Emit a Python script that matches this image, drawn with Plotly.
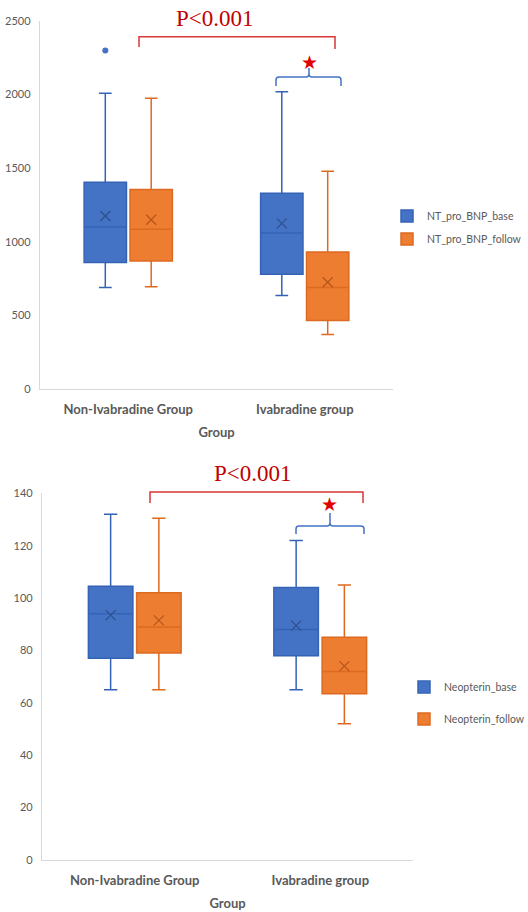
import plotly.graph_objects as go

W, H = 528, 912

groups = ["Non-Ivabradine Group", "Ivabradine group"]
group_pos = [0, 1]

# NT-proBNP box statistics per group (Non-Ivabradine, Ivabradine)
bnp_base_lower = [690, 635]
bnp_base_q1 = [860, 780]
bnp_base_median = [1100, 1060]
bnp_base_q3 = [1405, 1330]
bnp_base_upper = [2010, 2020]
bnp_base_mean = [1175, 1125]
bnp_base_outlier = [2300]

bnp_follow_lower = [695, 370]
bnp_follow_q1 = [870, 465]
bnp_follow_median = [1085, 690]
bnp_follow_q3 = [1355, 930]
bnp_follow_upper = [1975, 1480]
bnp_follow_mean = [1150, 725]

# Neopterin box statistics per group
neo_base_lower = [65, 65]
neo_base_q1 = [77, 78]
neo_base_median = [94, 88]
neo_base_q3 = [104.5, 104]
neo_base_upper = [132, 122]
neo_base_mean = [93.5, 89.5]

neo_follow_lower = [65, 52]
neo_follow_q1 = [79, 63.5]
neo_follow_median = [89, 72]
neo_follow_q3 = [102, 85]
neo_follow_upper = [130.5, 105]
neo_follow_mean = [91.5, 74]

BLUE, BLUE_LINE, BLUE_X = "#4472C4", "#3463B5", "#2F4F8F"
ORANGE, ORANGE_LINE, ORANGE_X = "#ED7D31", "#DE6A22", "#B85418"
GRAY = "#595959"
AXIS = "#D9D9D9"
FONT = "Lato"

OFFSET = 0.13
BOXW = 0.24


def px(x):
    return x / W


def py(y):
    return 1 - y / H


def path(points):
    cmds = []
    for p in points:
        vals = p[1:]
        coords = []
        for i in range(0, len(vals), 2):
            coords.append(f"{px(vals[i]):.5f},{py(vals[i + 1]):.5f}")
        cmds.append(p[0] + " " + " ".join(coords))
    return " ".join(cmds)


fig = go.Figure()


def add_boxes(name, lower, q1, med, q3, upper, mean, side, fill, line, xcol,
              xa, ya, legend):
    xs = [g + side * OFFSET for g in group_pos]
    fig.add_trace(go.Box(
        name=name, x=xs, lowerfence=lower, q1=q1, median=med, q3=q3,
        upperfence=upper, width=BOXW, whiskerwidth=0.3,
        fillcolor=fill, line=dict(color=line, width=1.5),
        boxpoints=False, xaxis=xa, yaxis=ya, legend=legend,
        legendgroup=name, hoverinfo="skip",
    ))
    fig.add_trace(go.Scatter(
        x=xs, y=mean, mode="markers", showlegend=False, legendgroup=name,
        legend=legend,
        marker=dict(symbol="x-thin-open", size=10, color=xcol,
                    line=dict(color=xcol, width=1.2)),
        xaxis=xa, yaxis=ya, hoverinfo="skip",
    ))


add_boxes("NT_pro_BNP_base", bnp_base_lower, bnp_base_q1, bnp_base_median,
          bnp_base_q3, bnp_base_upper, bnp_base_mean, -1, BLUE, BLUE_LINE,
          BLUE_X, "x", "y", "legend")
add_boxes("NT_pro_BNP_follow", bnp_follow_lower, bnp_follow_q1,
          bnp_follow_median, bnp_follow_q3, bnp_follow_upper, bnp_follow_mean,
          1, ORANGE, ORANGE_LINE, ORANGE_X, "x", "y", "legend")

# outlier of the baseline Non-Ivabradine group
fig.add_trace(go.Scatter(
    x=[group_pos[0] - OFFSET] * len(bnp_base_outlier), y=bnp_base_outlier,
    mode="markers", showlegend=False, legendgroup="NT_pro_BNP_base",
    marker=dict(symbol="circle", size=6, color=BLUE),
    xaxis="x", yaxis="y", hoverinfo="skip",
))

add_boxes("Neopterin_base", neo_base_lower, neo_base_q1, neo_base_median,
          neo_base_q3, neo_base_upper, neo_base_mean, -1, BLUE, BLUE_LINE,
          BLUE_X, "x2", "y2", "legend2")
add_boxes("Neopterin_follow", neo_follow_lower, neo_follow_q1,
          neo_follow_median, neo_follow_q3, neo_follow_upper, neo_follow_mean,
          1, ORANGE, ORANGE_LINE, ORANGE_X, "x2", "y2", "legend2")

xcommon = dict(
    range=[-0.5, 1.5], tickvals=group_pos, ticktext=groups,
    showline=True, linecolor=AXIS, linewidth=1.3, showgrid=False,
    zeroline=False, ticks="", ticklabelstandoff=8,
    tickfont=dict(family=FONT, size=13, color=GRAY, weight="bold"),
    title=dict(text="Group", standoff=12,
               font=dict(family=FONT, size=13, color=GRAY, weight="bold")),
)
ycommon = dict(
    showline=True, linecolor=AXIS, linewidth=1.3, showgrid=False,
    zeroline=False, ticks="", ticklabelstandoff=6,
    tickfont=dict(family=FONT, size=11, color=GRAY),
)

legend_common = dict(
    xanchor="left", yanchor="middle", bgcolor="rgba(0,0,0,0)",
    font=dict(family=FONT, size=10.5, color=GRAY), traceorder="grouped",
)

fig.update_layout(
    width=W, height=H,
    margin=dict(l=0, r=0, t=0, b=0, autoexpand=False),
    paper_bgcolor="white", plot_bgcolor="white",
    boxmode="overlay",
    xaxis=dict(domain=[px(40), px(393)], anchor="y", **xcommon),
    yaxis=dict(domain=[py(389), py(21)], anchor="x", range=[0, 2500],
               dtick=500, **ycommon),
    xaxis2=dict(domain=[px(42), px(413)], anchor="y2", **xcommon),
    yaxis2=dict(domain=[py(860), py(493.3)], anchor="x2", range=[0, 140],
                dtick=20, **ycommon),
    legend=dict(x=px(387), y=py(227.5), tracegroupgap=4, **legend_common),
    legend2=dict(x=px(404), y=py(703), tracegroupgap=13, **legend_common),
)

RED_TEXT = "#C00000"
RED_LINE = "#D93636"
shapes = [
    # overall comparison brackets
    dict(path=path([("M", 139, 47), ("L", 139, 36.7), ("L", 335, 36.7),
                    ("L", 335, 49)])),
    dict(path=path([("M", 150, 503), ("L", 150, 492), ("L", 363, 492),
                    ("L", 363, 503)])),
]
for s in shapes:
    s.update(type="path", xref="paper", yref="paper",
             line=dict(color=RED_LINE, width=1.5))


def brace(x0, x1, xc, ybar, ylegs, ytip):
    r = 3
    return path([
        ("M", x0, ylegs), ("L", x0, ybar + r), ("Q", x0, ybar, x0 + r, ybar),
        ("L", xc - r, ybar), ("Q", xc, ybar, xc, ybar - r), ("L", xc, ytip),
        ("M", xc, ybar - r), ("Q", xc, ybar, xc + r, ybar),
        ("L", x1 - r, ybar), ("Q", x1, ybar, x1, ybar + r), ("L", x1, ylegs),
    ])


for b in (brace(276, 341, 309, 77, 86, 68), brace(296, 364, 330, 526, 534, 513)):
    shapes.append(dict(type="path", path=b, xref="paper", yref="paper",
                       line=dict(color=BLUE, width=1.5)))
fig.update_layout(shapes=shapes)

annotations = []
for x, y in ((215, 18), (252.5, 473)):
    annotations.append(dict(
        text="P<0.001", x=px(x), y=py(y), xref="paper", yref="paper",
        showarrow=False, xanchor="center", yanchor="middle",
        font=dict(family="Liberation Serif", size=23, color=RED_TEXT),
    ))
for x, y in ((309, 62), (329, 504)):
    annotations.append(dict(
        text="★", x=px(x), y=py(y), xref="paper", yref="paper",
        showarrow=False, xanchor="center", yanchor="middle",
        font=dict(family="DejaVu Sans", size=19, color="#E00000"),
    ))
fig.update_layout(annotations=annotations)

fig.write_html("out.html")
